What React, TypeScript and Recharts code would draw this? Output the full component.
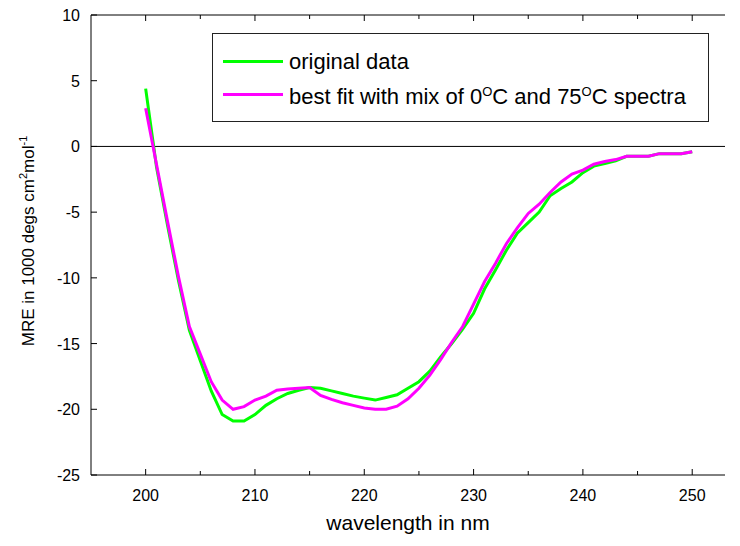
import React from 'react';
import { LineChart, Line, XAxis, YAxis, ReferenceLine, Legend } from 'recharts';

// wavelength (nm) and mean residue ellipticity values
const wavelengths = [
  200, 201, 202, 203, 204, 205, 206, 207, 208, 209,
  210, 211, 212, 213, 214, 215, 216, 217, 218, 219,
  220, 221, 222, 223, 224, 225, 226, 227, 228, 229,
  230, 231, 232, 233, 234, 235, 236, 237, 238, 239,
  240, 241, 242, 243, 244, 245, 246, 247, 248, 249, 250,
];
const originalData = [
  4.4, -1.6, -6.0, -10.2, -14.0, -16.3, -18.6, -20.4, -20.9, -20.9,
  -20.4, -19.7, -19.2, -18.8, -18.55, -18.35, -18.4, -18.6, -18.8, -19.0,
  -19.15, -19.3, -19.1, -18.9, -18.4, -17.9, -17.1, -16.0, -15.0, -13.9,
  -12.7, -10.85, -9.4, -7.9, -6.6, -5.8, -5.0, -3.75, -3.2, -2.7,
  -2.0, -1.5, -1.3, -1.1, -0.75, -0.75, -0.75, -0.55, -0.55, -0.55, -0.4,
];
const bestFit = [
  2.9, -1.4, -5.7, -9.9, -13.7, -15.8, -17.9, -19.3, -20.0, -19.8,
  -19.3, -19.0, -18.55, -18.45, -18.4, -18.35, -18.95, -19.25, -19.5, -19.7,
  -19.9, -20.0, -20.0, -19.76, -19.2, -18.4, -17.4, -16.2, -14.9, -13.7,
  -12.0, -10.3, -8.9, -7.4, -6.2, -5.1, -4.4, -3.5, -2.7, -2.1,
  -1.8, -1.35, -1.15, -1.0, -0.75, -0.75, -0.75, -0.55, -0.55, -0.55, -0.4,
];
const xTicks = [200, 205, 210, 215, 220, 225, 230, 235, 240, 245, 250];
const yTicks = [-25, -20, -15, -10, -5, 0, 5, 10];

const FONT = '"Liberation Sans", Arial, Helvetica, sans-serif';

const chartData = wavelengths.map((wl, i) => ({
  wl,
  original: originalData[i],
  fit: bestFit[i],
}));

// ticks point into the plot, like the original
const BottomTick = (props: any) => {
  const { x, y, payload } = props;
  const major = payload.value % 10 === 0;
  return (
    <g>
      <line x1={x} y1={y} x2={x} y2={y - (major ? 6 : 4)} stroke="#000" />
      {major && (
        <text x={x} y={y + 26} textAnchor="middle" fontSize={16} fontFamily={FONT} fill="#000">
          {payload.value}
        </text>
      )}
    </g>
  );
};

const TopTick = (props: any) => {
  const { x, y, payload } = props;
  const major = payload.value % 10 === 0;
  return <line x1={x} y1={y} x2={x} y2={y + (major ? 6 : 4)} stroke="#000" />;
};

const LeftTick = (props: any) => {
  const { x, y, payload } = props;
  return (
    <g>
      <line x1={x} y1={y} x2={x + 6} y2={y} stroke="#000" />
      <text x={x - 11} y={y + 6} textAnchor="end" fontSize={16} fontFamily={FONT} fill="#000">
        {payload.value}
      </text>
    </g>
  );
};

const YLabel = (props: any) => {
  const { x, y, height } = props.viewBox;
  const cx = x + 34;
  const cy = y + height / 2 - 4;
  return (
    <text
      x={cx}
      y={cy}
      transform={`rotate(-90, ${cx}, ${cy})`}
      textAnchor="middle"
      fontSize={17}
      fontFamily={FONT}
      fill="#000"
    >
      MRE in 1000 degs cm
      <tspan dy={-7} fontSize={11}>2</tspan>
      <tspan dy={7}>mol</tspan>
      <tspan dy={-7} fontSize={11}>-1</tspan>
    </text>
  );
};

const XLabel = (props: any) => {
  const { x, y, width } = props.viewBox;
  return (
    <text x={x + width / 2} y={y + 55} textAnchor="middle" fontSize={21} fontFamily={FONT} fill="#000">
      wavelength in nm
    </text>
  );
};

const legendRows = [
  { key: 'original', color: '#00ff00', label: <>original data</> },
  {
    key: 'fit',
    color: '#ff00ff',
    label: (
      <>
        best fit with mix of 0<sup style={{ fontSize: 13 }}>O</sup>C and 75<sup style={{ fontSize: 13 }}>O</sup>C spectra
      </>
    ),
  },
];

const renderLegend = () => (
  <div
    style={{
      boxSizing: 'border-box',
      width: '100%',
      height: '100%',
      border: '1px solid #222',
      paddingTop: 11,
      fontFamily: FONT,
      fontSize: 22,
      color: '#000',
    }}
  >
    {legendRows.map((r) => (
      <div key={r.key} style={{ display: 'flex', alignItems: 'center', height: 33 }}>
        <div style={{ width: 60, height: 3, background: r.color, marginLeft: 10, marginRight: 6 }} />
        <span style={{ lineHeight: '22px' }}>{r.label}</span>
      </div>
    ))}
  </div>
);

export default function App() {
  return (
    <div style={{ position: 'absolute', left: 0, top: 0, background: '#fff' }}>
      <LineChart width={740} height={546} data={chartData} margin={{ top: 0, right: 15, bottom: 0, left: 0 }}>
        <XAxis
          dataKey="wl"
          type="number"
          domain={[195, 253]}
          ticks={xTicks}
          interval={0}
          height={71}
          tickSize={0}
          tickMargin={0}
          tickLine={false}
          axisLine={{ stroke: '#000' }}
          tick={<BottomTick />}
          label={<XLabel />}
        />
        <XAxis
          xAxisId="top"
          orientation="top"
          dataKey="wl"
          type="number"
          domain={[195, 253]}
          ticks={xTicks}
          interval={0}
          height={15}
          tickSize={0}
          tickMargin={0}
          tickLine={false}
          axisLine={{ stroke: '#000' }}
          tick={<TopTick />}
        />
        <YAxis
          type="number"
          domain={[-25, 10]}
          ticks={yTicks}
          interval={0}
          width={91}
          tickSize={0}
          tickMargin={0}
          tickLine={false}
          axisLine={{ stroke: '#000' }}
          tick={<LeftTick />}
          label={<YLabel />}
        />
        <ReferenceLine y={0} stroke="#000" strokeWidth={1} />
        <Legend
          layout="vertical"
          align="center"
          verticalAlign="middle"
          content={renderLegend}
          wrapperStyle={{ left: 212, top: 33, width: 497, height: 89 }}
        />
        <Line
          dataKey="original"
          stroke="#00ff00"
          strokeWidth={3}
          dot={false}
          activeDot={false}
          type="linear"
          isAnimationActive={false}
        />
        <Line
          dataKey="fit"
          stroke="#ff00ff"
          strokeWidth={3}
          dot={false}
          activeDot={false}
          type="linear"
          isAnimationActive={false}
        />
      </LineChart>
    </div>
  );
}
